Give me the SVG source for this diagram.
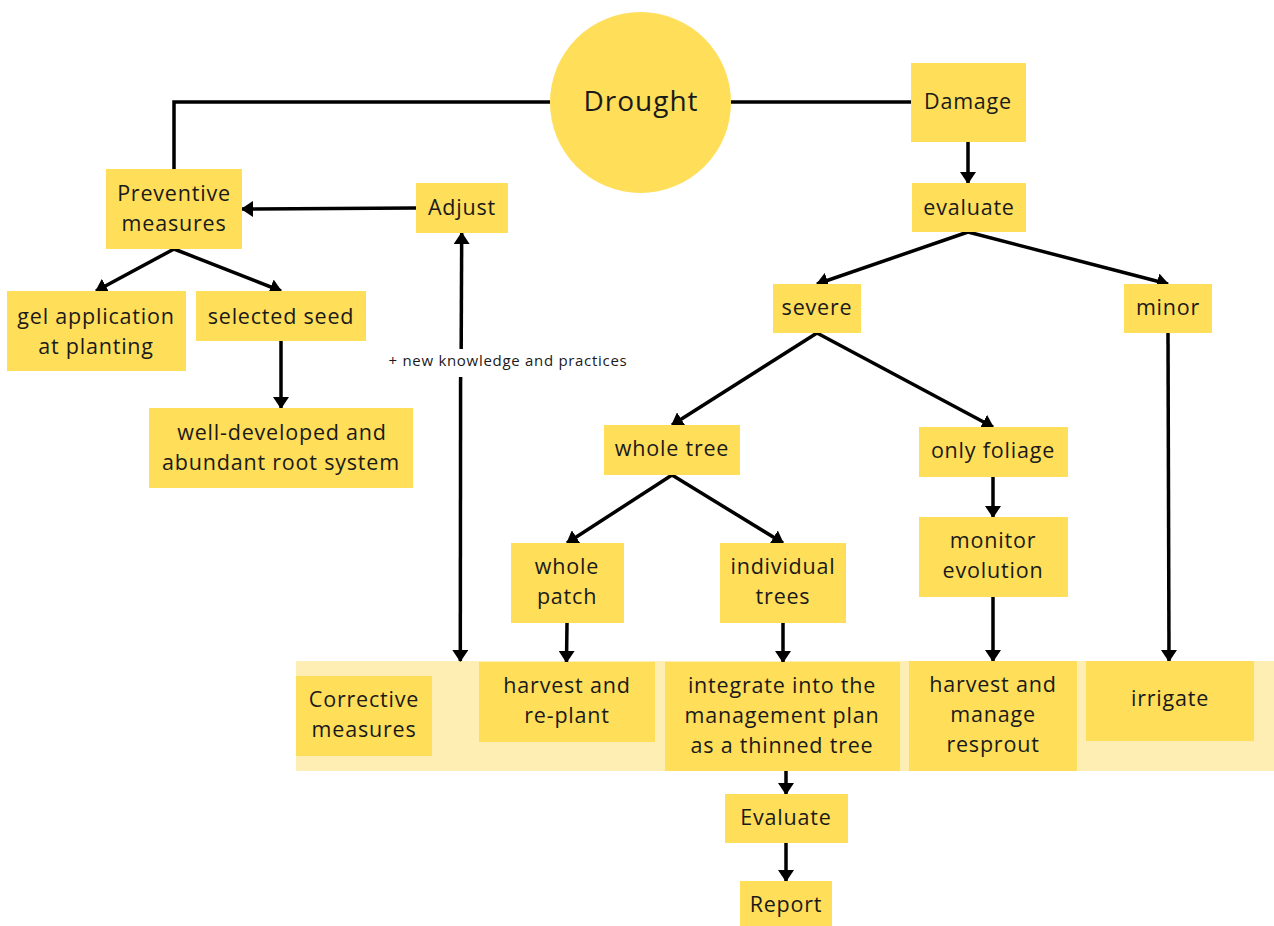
<svg xmlns="http://www.w3.org/2000/svg" width="1274" height="926" viewBox="0 0 1274 926">
<defs>
<marker id="ah" viewBox="0 0 12 16" refX="11" refY="8" markerWidth="12" markerHeight="16" markerUnits="userSpaceOnUse" orient="auto">
<path d="M0,0 L12,8 L0,16 z" fill="#000"/>
</marker>
<style>
.n{fill:#FFDE59}
.t{font-family:"Open Sans","Liberation Sans",sans-serif;font-size:21.5px;letter-spacing:0.8px;fill:#1a1a1a;text-anchor:middle}
.s{font-size:15px;letter-spacing:0.7px}
.c{stroke:#000;stroke-width:3.5;fill:none}
.a{marker-end:url(#ah)}
</style>
</defs>
<rect width="1274" height="926" fill="#fff"/>
<rect id="band" x="296" y="661" width="978" height="110" fill="#FEEEB4"/>
<g id="connectors">
<polyline class="c" points="550,102 174,102 174,169"/>
<line class="c" x1="731" y1="102" x2="911" y2="102"/>
<line class="c a" x1="968" y1="142" x2="968" y2="183"/>
<line class="c a" x1="416" y1="208" x2="242" y2="209"/>
<line class="c a" x1="174" y1="249" x2="96" y2="291"/>
<line class="c a" x1="174" y1="249" x2="281" y2="291"/>
<line class="c a" x1="281" y1="341" x2="281" y2="408"/>
<line class="c a" x1="461.2" y1="349" x2="461.7" y2="233"/>
<line class="c a" x1="460.6" y1="377" x2="460.3" y2="661"/>
<line class="c a" x1="968" y1="232" x2="817" y2="284"/>
<line class="c a" x1="968" y1="232" x2="1168" y2="284"/>
<line class="c a" x1="817" y1="333" x2="672" y2="425"/>
<line class="c a" x1="817" y1="333" x2="993" y2="427"/>
<line class="c a" x1="672" y1="475" x2="567" y2="543"/>
<line class="c a" x1="672" y1="475" x2="783" y2="543"/>
<line class="c a" x1="993" y1="477" x2="993" y2="517"/>
<line class="c a" x1="567" y1="623" x2="566.5" y2="662"/>
<line class="c a" x1="783" y1="623" x2="783" y2="662"/>
<line class="c a" x1="993" y1="597" x2="993" y2="661"/>
<line class="c a" x1="1168" y1="333" x2="1169" y2="661"/>
<line class="c a" x1="786" y1="771" x2="786" y2="794"/>
<line class="c a" x1="786" y1="843" x2="786" y2="881"/>
<text class="t s" x="508" y="366">+ new knowledge and practices</text>
</g>
<g id="drought"><circle class="n" cx="640.5" cy="102.5" r="90.5"/><text class="t" x="641" y="111" style="font-size:28px;letter-spacing:1px">Drought</text></g>
<g id="damage"><rect class="n" x="911" y="63" width="115" height="79"/><text class="t" x="968" y="109">Damage</text></g>
<g id="evaluate1"><rect class="n" x="912" y="183" width="114" height="49"/><text class="t" x="969" y="215">evaluate</text></g>
<g id="preventive"><rect class="n" x="106" y="169" width="136" height="80"/><text class="t" x="174" y="201">Preventive</text><text class="t" x="174" y="231">measures</text></g>
<g id="adjust"><rect class="n" x="416" y="183" width="92" height="50"/><text class="t" x="462" y="215">Adjust</text></g>
<g id="gel"><rect class="n" x="7" y="291" width="179" height="80"/><text class="t" x="96" y="324">gel application</text><text class="t" x="96" y="354">at planting</text></g>
<g id="seed"><rect class="n" x="196" y="291" width="170" height="50"/><text class="t" x="281" y="324">selected seed</text></g>
<g id="root"><rect class="n" x="149" y="408" width="264" height="80"/><text class="t" x="282" y="440">well-developed and</text><text class="t" x="281" y="470">abundant root system</text></g>
<g id="severe"><rect class="n" x="773" y="284" width="88" height="49"/><text class="t" x="817" y="315">severe</text></g>
<g id="minor"><rect class="n" x="1124" y="284" width="88" height="49"/><text class="t" x="1168" y="315">minor</text></g>
<g id="wholetree"><rect class="n" x="604" y="425" width="136" height="50"/><text class="t" x="672" y="456">whole tree</text></g>
<g id="foliage"><rect class="n" x="919" y="427" width="149" height="50"/><text class="t" x="993" y="458">only foliage</text></g>
<g id="patch"><rect class="n" x="511" y="543" width="113" height="80"/><text class="t" x="567" y="574">whole</text><text class="t" x="567" y="604">patch</text></g>
<g id="individual"><rect class="n" x="720" y="543" width="126" height="80"/><text class="t" x="783" y="574">individual</text><text class="t" x="783" y="604">trees</text></g>
<g id="monitor"><rect class="n" x="919" y="517" width="149" height="80"/><text class="t" x="993" y="548">monitor</text><text class="t" x="993" y="578">evolution</text></g>
<g id="corrective"><rect class="n" x="296" y="676" width="136" height="80"/><text class="t" x="364" y="707">Corrective</text><text class="t" x="364" y="737">measures</text></g>
<g id="replant"><rect class="n" x="479" y="662" width="176" height="80"/><text class="t" x="567" y="693">harvest and</text><text class="t" x="567" y="723">re-plant</text></g>
<g id="integrate"><rect class="n" x="665" y="662" width="235" height="109"/><text class="t" x="782" y="693">integrate into the</text><text class="t" x="782" y="723">management plan</text><text class="t" x="782" y="753">as a thinned tree</text></g>
<g id="resprout"><rect class="n" x="909" y="661" width="168" height="110"/><text class="t" x="993" y="692">harvest and</text><text class="t" x="993" y="722">manage</text><text class="t" x="993" y="752">resprout</text></g>
<g id="irrigate"><rect class="n" x="1086" y="661" width="168" height="80"/><text class="t" x="1170" y="706">irrigate</text></g>
<g id="evaluate2"><rect class="n" x="725" y="794" width="123" height="49"/><text class="t" x="786" y="825">Evaluate</text></g>
<g id="report"><rect class="n" x="740" y="881" width="92" height="45"/><text class="t" x="786" y="912">Report</text></g>
</svg>
